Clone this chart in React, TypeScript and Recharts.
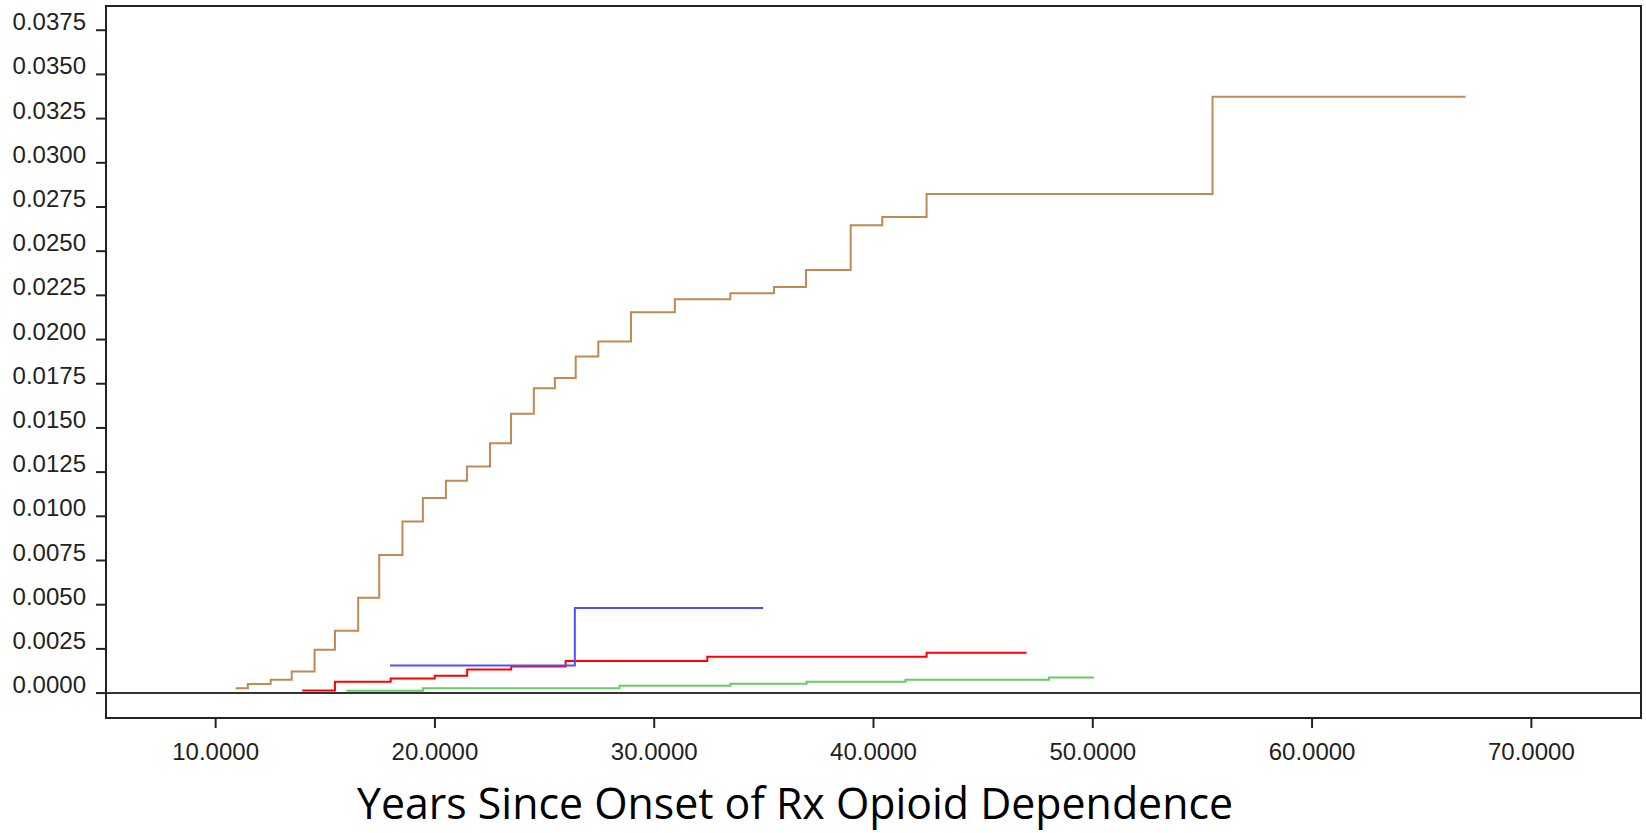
import React from "react";
import {
  LineChart,
  Line,
  XAxis,
  YAxis,
  ReferenceArea,
  ReferenceLine
} from "recharts";

// step curves: x = years since onset, y = cumulative value
const brownX = [10.91, 11.47, 12.51, 13.47, 14.51, 15.44, 16.5, 17.46, 18.52, 19.45, 20.5, 21.46, 22.51, 23.47, 24.51, 25.47, 26.42, 27.45, 28.94, 30.94, 33.47, 35.46, 36.92, 38.96, 40.4, 42.42, 55.46, 67.0];
const brownY = [0.00028, 0.00051, 0.00075, 0.00122, 0.00245, 0.00352, 0.00539, 0.00781, 0.00971, 0.01103, 0.01201, 0.01282, 0.01414, 0.0158, 0.01725, 0.01783, 0.01904, 0.01989, 0.02155, 0.02228, 0.02262, 0.02298, 0.02394, 0.02647, 0.02694, 0.02824, 0.03374, 0.03374];

const redX = [13.95, 15.44, 17.98, 19.99, 21.47, 23.48, 25.96, 32.42, 42.42, 46.98];
const redY = [0.00015, 0.00064, 0.00083, 0.00098, 0.00134, 0.0015, 0.00181, 0.00205, 0.00228, 0.00228];

const blueX = [17.95, 26.38, 34.97];
const blueY = [0.00156, 0.00481, 0.00481];

const greenX = [15.96, 19.45, 28.42, 33.48, 36.95, 41.46, 48.0, 50.05];
const greenY = [0.00013, 0.00028, 0.00041, 0.00053, 0.00064, 0.00075, 0.00088, 0.00088];

const xTicks = [10, 20, 30, 40, 50, 60, 70];
const yTicks = [0, 0.0025, 0.005, 0.0075, 0.01, 0.0125, 0.015, 0.0175, 0.02, 0.0225, 0.025, 0.0275, 0.03, 0.0325, 0.035, 0.0375];

const X_MIN = 5;
const X_MAX = 75;
const Y_MIN = -0.00141;
const Y_MAX = 0.03887;

const toPoints = (xs: number[], ys: number[]) => xs.map((x, i) => ({ x, y: ys[i] }));

const tickFont = "'Liberation Sans', Arial, sans-serif";

const YTick = (props: any) => {
  const { x, y, payload } = props;
  return (
    <text x={x} y={y} textAnchor="end" fontFamily={tickFont} fontSize={24} fill="#222">
      {Number(payload.value).toFixed(4)}
    </text>
  );
};

const XTick = (props: any) => {
  const { x, y, payload } = props;
  return (
    <text x={x} y={y + 20} textAnchor="middle" fontFamily={tickFont} fontSize={24} fill="#222">
      {Number(payload.value).toFixed(4)}
    </text>
  );
};

export default function App() {
  return (
    <div style={{ position: "absolute", left: 0, top: 0, width: 1646, height: 833, background: "#fff" }}>
      <LineChart
        width={1646}
        height={833}
        margin={{ top: 6, right: 5, left: 0, bottom: 75 }}
      >
        <XAxis
          dataKey="x"
          type="number"
          domain={[X_MIN, X_MAX]}
          ticks={xTicks}
          allowDataOverflow
          axisLine={false}
          tickSize={10}
          tickMargin={12}
          tickLine={{ stroke: "#222", strokeWidth: 2 }}
          tick={<XTick />}
          height={40}
        />
        <YAxis
          type="number"
          domain={[Y_MIN, Y_MAX]}
          ticks={yTicks}
          allowDataOverflow
          axisLine={false}
          tickSize={10}
          tickMargin={10}
          tickLine={{ stroke: "#222", strokeWidth: 2 }}
          tick={<YTick />}
          width={106}
        />
        <ReferenceArea x1={X_MIN} x2={X_MAX} y1={Y_MIN} y2={Y_MAX} fill="none" stroke="#222" strokeWidth={2} fillOpacity={0} />
        <ReferenceLine y={0} stroke="#333" strokeWidth={2} />
        <Line data={toPoints(greenX, greenY)} dataKey="y" type="stepAfter" stroke="#66cc66" strokeWidth={2} dot={false} isAnimationActive={false} />
        <Line data={toPoints(redX, redY)} dataKey="y" type="stepAfter" stroke="#ff0000" strokeWidth={2} dot={false} isAnimationActive={false} />
        <Line data={toPoints(blueX, blueY)} dataKey="y" type="stepAfter" stroke="#5050ff" strokeWidth={2} dot={false} isAnimationActive={false} />
        <Line data={toPoints(brownX, brownY)} dataKey="y" type="stepAfter" stroke="#c08a52" strokeWidth={2} dot={false} isAnimationActive={false} />
      </LineChart>
      <svg width={1646} height={833} style={{ position: "absolute", left: 0, top: 0, pointerEvents: "none" }}>
        <text
          x={357}
          y={819}
          fontFamily="'Open Sans', 'Noto Sans', sans-serif"
          fontSize={44}
          fill="#000"
          textLength={876}
          lengthAdjust="spacingAndGlyphs"
        >
          Years Since Onset of Rx Opioid Dependence
        </text>
      </svg>
    </div>
  );
}
